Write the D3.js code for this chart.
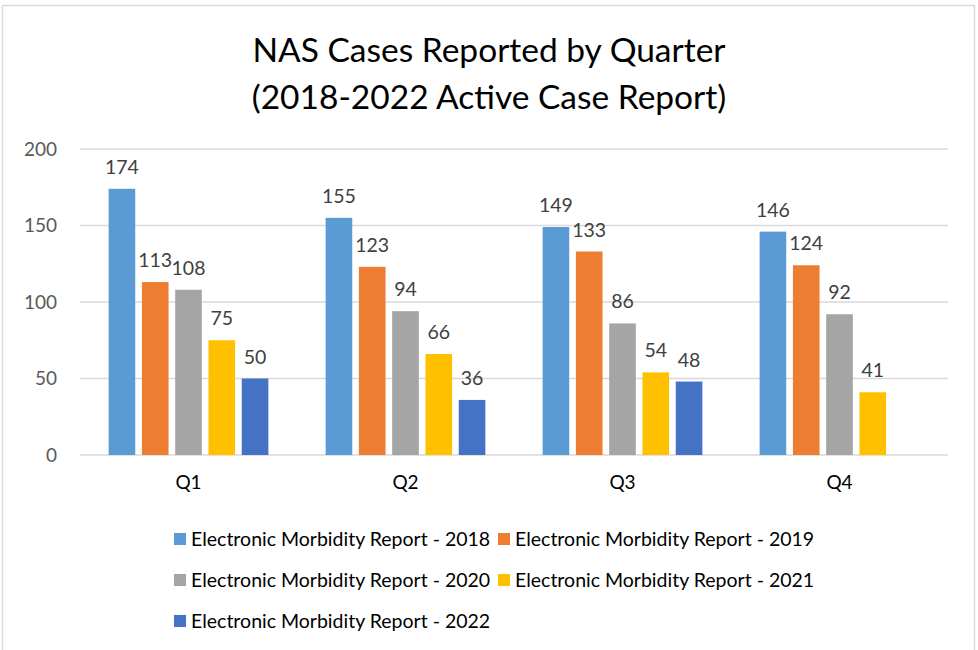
<!DOCTYPE html>
<html>
<head>
<meta charset="utf-8">
<script src="https://cdn.jsdelivr.net/npm/d3@7"></script>
<style>
  body { margin: 0; background: #fff; }
  svg { display: block; font-family: Lato, "Open Sans", sans-serif; }
</style>
</head>
<body>
<svg id="chart" width="978" height="650"></svg>
<script>
// chart values
var quarters = ["Q1", "Q2", "Q3", "Q4"]
var seriesNames = ["Electronic Morbidity Report - 2018", "Electronic Morbidity Report - 2019",
  "Electronic Morbidity Report - 2020", "Electronic Morbidity Report - 2021", "Electronic Morbidity Report - 2022"]
var v2018 = [174, 155, 149, 146]
var v2019 = [113, 123, 133, 124]
var v2020 = [108, 94, 86, 92]
var v2021 = [75, 66, 54, 41]
var v2022 = [50, 36, 48, null]
var yTicks = [0, 50, 100, 150, 200]
var colors = ["#5B9BD5", "#ED7D31", "#A5A5A5", "#FFC000", "#4472C4"]

var allSeries = [v2018, v2019, v2020, v2021, v2022]

var svg = d3.select("#chart"),
    margin = {top: 149, right: 30, bottom: 195, left: 80},
    width = 948 - margin.left,
    height = 455 - margin.top

// outer frame
svg.append("rect")
    .attr("x", 2.5).attr("y", 5.5)
    .attr("width", 972).attr("height", 660)
    .attr("fill", "none").attr("stroke", "#D9D9D9").attr("stroke-width", 1.5)

// title
var title = svg.append("text")
    .attr("text-anchor", "middle")
    .attr("fill", "#000")
    .style("font-size", "33.5px")
title.append("tspan").attr("x", 489).attr("y", 62).text("NAS Cases Reported by Quarter")
title.append("tspan").attr("x", 489).attr("y", 109).text("(2018-2022 Active Case Report)")

var g = svg.append("g").attr("transform", "translate(" + margin.left + "," + margin.top + ")")

var x0 = d3.scaleBand().domain(quarters).range([0, width])
var x1 = d3.scaleBand().domain(d3.range(seriesNames.length))
    .range([0, x0.bandwidth()]).paddingInner(0.2).paddingOuter(0.86)
var y = d3.scaleLinear().domain([0, 200]).range([height, 0])

// gridlines
g.selectAll("line.grid").data(yTicks).enter().append("line")
    .attr("class", "grid")
    .attr("x1", 0).attr("x2", width)
    .attr("y1", function(d) { return y(d) }).attr("y2", function(d) { return y(d) })
    .attr("stroke", "#D9D9D9").attr("stroke-width", 1.5)

// y axis labels
var yAxis = g.append("g")
    .call(d3.axisLeft(y).tickValues(yTicks).tickSize(0).tickPadding(23))
yAxis.select(".domain").remove()
yAxis.selectAll("text").attr("fill", "#595959").style("font-size", "19px").style("font-family", "Lato, sans-serif")

// x axis labels
var xAxis = g.append("g")
    .attr("transform", "translate(0," + height + ")")
    .call(d3.axisBottom(x0).tickSize(0).tickPadding(21))
xAxis.select(".domain").remove()
xAxis.selectAll("text").attr("fill", "#000").style("font-size", "19px").style("font-family", "Lato, sans-serif")

// bars and labels
var groups = g.selectAll("g.quarter").data(quarters).enter().append("g")
    .attr("class", "quarter")
    .attr("transform", function(d) { return "translate(" + x0(d) + ",0)" })

groups.each(function(q, qi) {
  var cells = allSeries.map(function(s, si) { return {si: si, v: s[qi]} })
      .filter(function(c) { return c.v != null })
  var grp = d3.select(this)
  grp.selectAll("rect").data(cells).enter().append("rect")
      .attr("x", function(c) { return x1(c.si) })
      .attr("width", x1.bandwidth())
      .attr("y", function(c) { return y(c.v) })
      .attr("height", function(c) { return height - y(c.v) })
      .attr("fill", function(c) { return colors[c.si] })
  grp.selectAll("text").data(cells).enter().append("text")
      .attr("x", function(c) { return x1(c.si) + x1.bandwidth() / 2 })
      .attr("y", function(c) { return y(c.v) - 15 })
      .attr("text-anchor", "middle")
      .attr("fill", "#404040")
      .style("font-size", "19.5px")
      .text(function(c) { return c.v })
})

// legend
var legendPos = [[174, 539], [498, 539], [174, 580], [498, 580], [174, 621]]
var legend = svg.selectAll("g.legend").data(seriesNames).enter().append("g")
    .attr("class", "legend")
    .attr("transform", function(d, i) { return "translate(" + legendPos[i][0] + "," + legendPos[i][1] + ")" })
legend.append("rect")
    .attr("x", 0).attr("y", -6).attr("width", 12).attr("height", 12)
    .attr("fill", function(d, i) { return colors[i] })
legend.append("text")
    .attr("x", 17).attr("y", 7)
    .attr("fill", "#000")
    .style("font-size", "19.5px")
    .text(function(d) { return d })
</script>
</body>
</html>
